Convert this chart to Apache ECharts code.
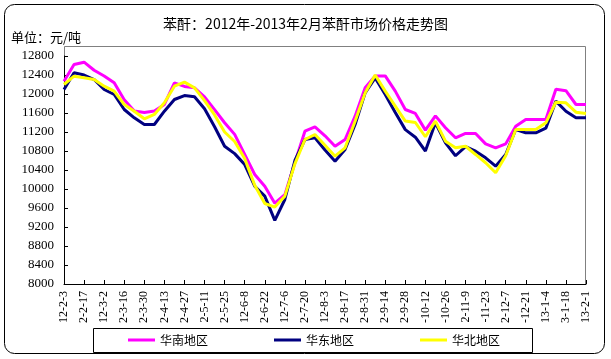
<!DOCTYPE html>
<html>
<head>
<meta charset="utf-8">
<script src="https://cdn.jsdelivr.net/npm/echarts@6.0.0/dist/echarts.min.js"></script>
<style>
html,body{margin:0;padding:0;background:#fff;}
#chart{width:611px;height:359px;}
</style>
</head>
<body>
<div id="chart"></div>
<script>
var titleText = '苯酐：2012年-2013年2月苯酐市场价格走势图';
var unitText = '单位：元/吨';
var seriesNames = ['华南地区', '华东地区', '华北地区'];

var categories = ['12-2-3','12-2-10','12-2-17','12-2-24','12-3-2','12-3-9','12-3-16','12-3-23','12-3-30',
  '12-4-6','12-4-13','12-4-20','12-4-27','12-5-4','12-5-11','12-5-18','12-5-25','12-6-1','12-6-8',
  '12-6-15','12-6-22','12-6-29','12-7-6','12-7-13','12-7-20','12-7-27','12-8-3','12-8-10','12-8-17',
  '12-8-24','12-8-31','12-9-7','12-9-14','12-9-21','12-9-28','12-10-5','12-10-12','12-10-19','12-10-26',
  '12-11-2','12-11-9','12-11-16','12-11-23','12-11-30','12-12-7','12-12-14','12-12-21','12-12-28',
  '13-1-4','13-1-11','13-1-18','13-1-25','13-2-1'];

var southChina = [12270,12620,12670,12500,12380,12235,11880,11640,11610,11640,11780,12235,12160,12130,
  11940,11670,11394,11150,10730,10306,10059,9700,9880,10552,11217,11309,11120,10901,11042,11533,
  12130,12380,12380,12060,11674,11590,11240,11540,11290,11078,11170,11170,10950,10867,10950,
  11320,11463,11463,11463,12100,12070,11779,11779];

var eastChina = [12095,12446,12400,12305,12095,11990,11674,11499,11358,11358,11638,11884,11968,11941,
  11690,11310,10901,10745,10515,10059,9849,9340,9779,10600,11042,11077,10820,10585,10832,11358,
  12025,12340,11990,11610,11250,11090,10800,11394,10970,10700,10890,10796,10656,10480,10727,
  11253,11183,11183,11280,11850,11638,11499,11499];

var northChina = [12200,12375,12340,12305,12164,12059,11779,11638,11478,11569,11815,12164,12250,12130,
  11860,11560,11200,11000,10640,10080,9695,9620,9849,10530,11042,11148,10920,10690,10867,11428,
  12025,12400,12060,11745,11430,11400,11100,11430,11007,10867,10900,10727,10552,10341,10700,
  11253,11253,11253,11394,11828,11815,11617,11590];

var yTicks = {min: 8000, max: 12800, interval: 400};
var colors = ['#FF00FF', '#000080', '#FFFF00'];

var chart = echarts.init(document.getElementById('chart'), null, {renderer: 'canvas'});
var serifFont = 'Liberation Serif';
var cjkFont = 'Noto Sans CJK SC';

function mk(name, data, color) {
  return {
    name: name, type: 'line', data: data, symbol: 'none', smooth: false,
    lineStyle: {color: color, width: 3}, itemStyle: {color: color},
    emphasis: {disabled: true}
  };
}

chart.setOption({
  animation: false,
  backgroundColor: '#ffffff',
  title: [
    {text: titleText, left: 'center', top: 12,
     textStyle: {fontFamily: cjkFont, fontSize: 14, fontWeight: 'normal', color: '#000'}},
    {text: unitText, left: 6, top: 26,
     textStyle: {fontFamily: cjkFont, fontSize: 13, fontWeight: 'normal', color: '#000'}}
  ],
  grid: {left: 64, right: 25, top: 56, bottom: 75, containLabel: false},
  legend: {
    data: seriesNames, left: 128, top: 334, icon: 'rect', padding: 0,
    itemWidth: 27, itemHeight: 3, itemGap: 66,
    textStyle: {fontFamily: cjkFont, fontSize: 12, color: '#000'}
  },
  xAxis: {
    type: 'category', data: categories, boundaryGap: false,
    axisLine: {lineStyle: {color: '#000', width: 1}},
    axisTick: {show: true, inside: true, length: 4, interval: 1, lineStyle: {color: '#000'}},
    axisLabel: {interval: 1, rotate: 90, margin: 7, fontFamily: serifFont, fontSize: 12, color: '#000',
      formatter: function (v) { return v.slice(-6); }},
    splitLine: {show: false}
  },
  yAxis: {
    type: 'value', min: yTicks.min, max: yTicks.max, interval: yTicks.interval,
    axisLine: {show: true, lineStyle: {color: '#000', width: 1}},
    axisTick: {show: true, inside: true, length: 4, lineStyle: {color: '#000'}},
    axisLabel: {margin: 10, fontFamily: serifFont, fontSize: 13, color: '#000',
      formatter: function (v) { return String(v); }},
    splitLine: {show: false}
  },
  graphic: [
    {type: 'rect', z: -10, silent: true,
     shape: {x: 4.5, y: 4.5, width: 600, height: 349, r: 10},
     style: {fill: 'none', stroke: '#000', lineWidth: 1}},
    {type: 'rect', z: -5, silent: true,
     shape: {x: 64.5, y: 46.5, width: 521, height: 238},
     style: {fill: 'none', stroke: '#808080', lineWidth: 1}},
    {type: 'rect', z: -5, silent: true,
     shape: {x: 93.5, y: 328.5, width: 439, height: 24},
     style: {fill: 'none', stroke: '#000', lineWidth: 1}}
  ],
  series: [
    mk(seriesNames[0], southChina, colors[0]),
    mk(seriesNames[1], eastChina, colors[1]),
    mk(seriesNames[2], northChina, colors[2])
  ]
});
</script>
</body>
</html>
